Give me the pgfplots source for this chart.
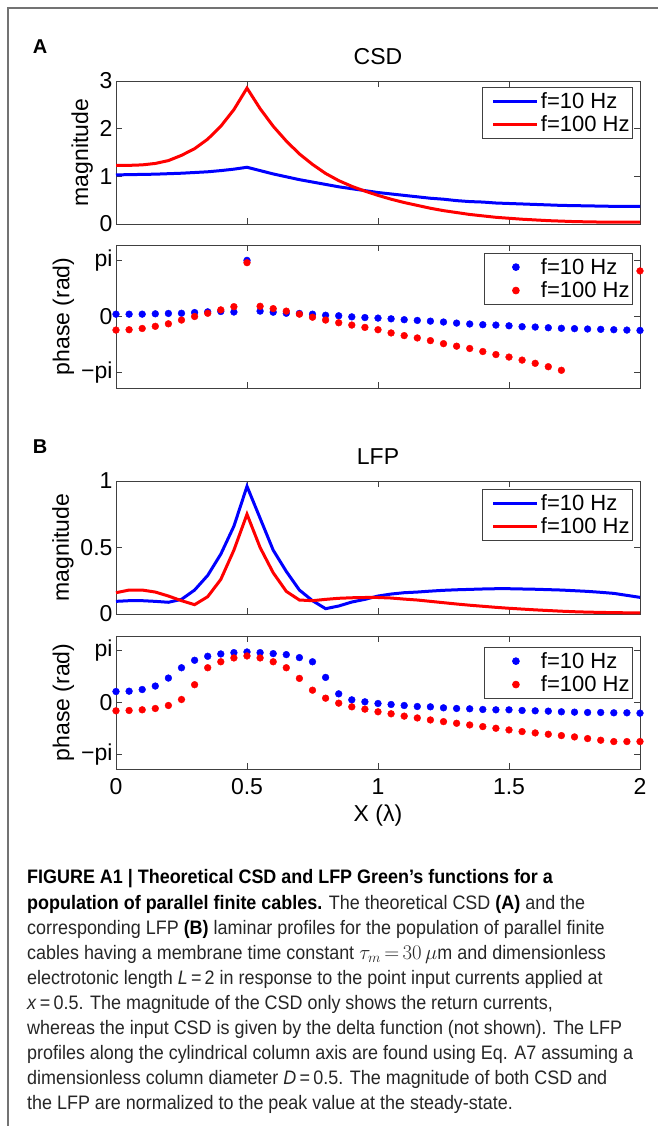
\documentclass[border=0pt]{standalone}
\usepackage{pgfplots}
\pgfplotsset{compat=1.18}
\usepackage{pgfplotstable}
\usepackage{fontspec}
\setmainfont{Liberation Sans}
\newfontfamily\capfont[FakeStretch=0.92]{Liberation Sans}

% panel A, magnitude of the CSD
\pgfplotstableread{
x f10 f100
0.00 1.03 1.23
0.05 1.035 1.23
0.10 1.04 1.24
0.15 1.045 1.27
0.20 1.055 1.33
0.25 1.065 1.44
0.30 1.08 1.58
0.35 1.095 1.78
0.40 1.12 2.05
0.45 1.15 2.40
0.50 1.19 2.85
0.55 1.12 2.42
0.60 1.05 2.05
0.65 0.99 1.74
0.70 0.93 1.47
0.75 0.88 1.25
0.80 0.83 1.06
0.85 0.78 0.91
0.90 0.74 0.79
0.95 0.70 0.69
1.00 0.66 0.60
1.05 0.63 0.52
1.10 0.60 0.45
1.15 0.57 0.39
1.20 0.54 0.33
1.25 0.52 0.28
1.30 0.49 0.24
1.35 0.47 0.20
1.40 0.46 0.17
1.45 0.44 0.14
1.50 0.43 0.12
1.55 0.42 0.10
1.60 0.41 0.085
1.65 0.40 0.07
1.70 0.39 0.06
1.75 0.385 0.05
1.80 0.38 0.045
1.85 0.375 0.04
1.90 0.37 0.04
1.95 0.37 0.04
2.00 0.37 0.04
}\csdmag

% panel A, phase of the CSD
\pgfplotstableread{
x f10 f100
0.00 0.13 -0.76
0.05 0.13 -0.74
0.10 0.13 -0.67
0.15 0.15 -0.55
0.20 0.17 -0.41
0.25 0.18 -0.20
0.30 0.22 0.00
0.35 0.26 0.18
0.40 0.28 0.37
0.45 0.25 0.55
0.50 3.14 3.01
0.55 0.30 0.57
0.60 0.24 0.44
0.65 0.18 0.30
0.70 0.17 0.13
0.75 0.13 -0.04
0.80 0.07 -0.20
0.85 0.04 -0.35
0.90 -0.02 -0.48
0.95 -0.06 -0.61
1.00 -0.09 -0.74
1.05 -0.13 -0.92
1.10 -0.18 -1.07
1.15 -0.22 -1.20
1.20 -0.26 -1.35
1.25 -0.31 -1.52
1.30 -0.37 -1.66
1.35 -0.42 -1.79
1.40 -0.46 -1.96
1.45 -0.48 -2.13
1.50 -0.52 -2.27
1.55 -0.57 -2.44
1.60 -0.59 -2.62
1.65 -0.63 -2.81
1.70 -0.66 -3.01
1.75 -0.68 3.08
1.80 -0.70 2.90
1.85 -0.72 2.75
1.90 -0.74 2.62
1.95 -0.76 2.57
2.00 -0.78 2.55
}\csdphase

% panel B, magnitude of the LFP
\pgfplotstableread{
x f10 f100
0.00 0.095 0.16
0.05 0.10 0.18
0.10 0.10 0.18
0.15 0.095 0.165
0.20 0.088 0.135
0.25 0.11 0.10
0.30 0.18 0.07
0.35 0.29 0.13
0.40 0.45 0.26
0.45 0.66 0.48
0.50 0.96 0.75
0.55 0.72 0.50
0.60 0.48 0.31
0.65 0.32 0.17
0.70 0.18 0.105
0.75 0.10 0.10
0.80 0.04 0.11
0.85 0.06 0.118
0.90 0.09 0.122
0.95 0.11 0.124
1.00 0.135 0.124
1.05 0.15 0.12
1.10 0.16 0.112
1.15 0.165 0.105
1.20 0.172 0.095
1.25 0.178 0.085
1.30 0.182 0.075
1.35 0.185 0.066
1.40 0.188 0.058
1.45 0.19 0.05
1.50 0.19 0.043
1.55 0.188 0.037
1.60 0.186 0.031
1.65 0.183 0.026
1.70 0.18 0.021
1.75 0.175 0.017
1.80 0.17 0.014
1.85 0.163 0.012
1.90 0.155 0.010
1.95 0.14 0.009
2.00 0.125 0.008
}\lfpmag

% panel B, phase of the LFP
\pgfplotstableread{
x f10 f100
0.00 0.66 -0.50
0.05 0.68 -0.48
0.10 0.78 -0.44
0.15 0.99 -0.36
0.20 1.47 -0.18
0.25 2.09 0.18
0.30 2.54 1.07
0.35 2.78 2.09
0.40 2.92 2.45
0.45 3.00 2.68
0.50 3.04 2.80
0.55 3.00 2.68
0.60 2.94 2.45
0.65 2.88 2.09
0.70 2.70 1.45
0.75 2.45 0.74
0.80 1.51 0.26
0.85 0.52 -0.04
0.90 0.16 -0.26
0.95 0.04 -0.40
1.00 -0.06 -0.56
1.05 -0.12 -0.68
1.10 -0.18 -0.82
1.15 -0.24 -0.93
1.20 -0.26 -1.05
1.25 -0.32 -1.15
1.30 -0.36 -1.25
1.35 -0.38 -1.35
1.40 -0.42 -1.45
1.45 -0.44 -1.55
1.50 -0.44 -1.65
1.55 -0.48 -1.75
1.60 -0.50 -1.83
1.65 -0.52 -1.91
1.70 -0.56 -1.99
1.75 -0.58 -2.07
1.80 -0.60 -2.17
1.85 -0.60 -2.27
1.90 -0.62 -2.35
1.95 -0.62 -2.35
2.00 -0.64 -2.35
}\lfpphase

\pgfplotsset{
  mat/.style={
    scale only axis, width=524pt, anchor=south west,
    xmin=0, xmax=2, xtick={0,0.5,1,1.5,2},
    tick align=inside, major tick length=6pt,
    axis line style={black!75, line width=0.8pt},
    tick style={black!75, line width=0.8pt},
    font=\fontsize{23}{26}\selectfont,
    /pgf/number format/assume math mode=true,
    clip=false,
    title style={yshift=7pt},
    xticklabel shift=6pt,
    xlabel style={yshift=-3pt},
    legend style={at={(0.9866,0.955)}, anchor=north east, draw=black!75,
      line width=0.8pt, fill=white, font=\fontsize{22}{25}\selectfont,
      inner xsep=1pt, inner ysep=3pt, row sep=2pt, cells={anchor=west}},
    legend image code/.code={\path[draw=none] (0pt,0pt) -- (54pt,0pt);
      \draw[#1] (10pt,0pt) -- (54pt,0pt);},
  },
  phase/.style={ymin=-4, ymax=4, ytick={-3.14159,0,3.14159},
    yticklabels={−pi,0,pi}, ylabel={phase (rad)}},
  ln/.style={line width=3pt, no marks},
  dt/.style={only marks, mark=*, mark size=3.4pt,
    legend image code/.code={\path[draw=none] (0pt,0pt) -- (54pt,0pt);
      \draw[#1] plot coordinates {(31pt,0pt)};}},
}

\begin{document}
\begin{tikzpicture}[x=1pt,y=1pt]
\useasboundingbox (0,0) rectangle (658,1126);
\draw[black!55, line width=1.2pt] (8,0) -- (8,1118) -- (658,1118);

\node[font=\fontsize{20}{24}\selectfont\bfseries] at (40,1079) {A};
\begin{axis}[mat, at={(116pt,902pt)}, height=143pt, ymin=0, ymax=3,
  ytick={0,1,2,3}, ylabel={magnitude}, title={CSD}, xticklabels={},
  legend style={at={(0.9866,0.958)}}]
  \addplot[blue, ln] table[x=x, y=f10] {\csdmag};
  \addplot[red, ln] table[x=x, y=f100] {\csdmag};
  \legend{f=10 Hz, f=100 Hz}
\end{axis}
\begin{axis}[mat, phase, at={(116pt,738pt)}, height=143pt, xticklabels={},
  legend style={at={(0.9866,0.944)}}]
  \addplot[blue, dt] table[x=x, y=f10] {\csdphase};
  \addplot[red, dt] table[x=x, y=f100] {\csdphase};
  \legend{f=10 Hz, f=100 Hz}
\end{axis}

\node[font=\fontsize{20}{24}\selectfont\bfseries] at (40,679) {B};
\begin{axis}[mat, at={(116pt,512pt)}, height=133pt, ymin=0, ymax=1,
  ytick={0,0.5,1}, ylabel={magnitude}, title={LFP}, xticklabels={},
  legend style={at={(0.9866,0.94)}}]
  \addplot[blue, ln] table[x=x, y=f10] {\lfpmag};
  \addplot[red, ln] table[x=x, y=f100] {\lfpmag};
  \legend{f=10 Hz, f=100 Hz}
\end{axis}
\begin{axis}[mat, phase, at={(116pt,357pt)}, height=133pt, xlabel={X (λ)},
  legend style={at={(0.9866,0.917)}}]
  \addplot[blue, dt] table[x=x, y=f10] {\lfpphase};
  \addplot[red, dt] table[x=x, y=f100] {\lfpphase};
  \legend{f=10 Hz, f=100 Hz}
\end{axis}

\begin{scope}[every node/.style={anchor=base west, inner sep=0pt,
    text=black!85, font=\capfont\fontsize{19.5}{22}\selectfont}]
\node at (27,242) {\textcolor{black}{\textbf{FIGURE A1 | Theoretical CSD and LFP Green’s functions for a}}};
\node at (27,216.9) {\textcolor{black}{\textbf{population of parallel finite cables.}} The theoretical CSD \textcolor{black}{\textbf{(A)}} and the};
\node at (27,191.8) {corresponding LFP \textcolor{black}{\textbf{(B)}} laminar profiles for the population of parallel finite};
\node at (27,166.7) {cables having a membrane time constant $\tau_m\,{=}\,30\,\mu$m and dimensionless};
\node at (27,141.6) {electrotonic length \textit{L}\,=\,2 in response to the point input currents applied at};
\node at (27,116.5) {\textit{x}\,=\,0.5. The magnitude of the CSD only shows the return currents,};
\node at (27,91.4) {whereas the input CSD is given by the delta function (not shown). The LFP};
\node at (27,66.3) {profiles along the cylindrical column axis are found using Eq. A7 assuming a};
\node at (27,41.2) {dimensionless column diameter \textit{D}\,=\,0.5. The magnitude of both CSD and};
\node at (27,16.1) {the LFP are normalized to the peak value at the steady-state.};
\end{scope}
\end{tikzpicture}
\end{document}
